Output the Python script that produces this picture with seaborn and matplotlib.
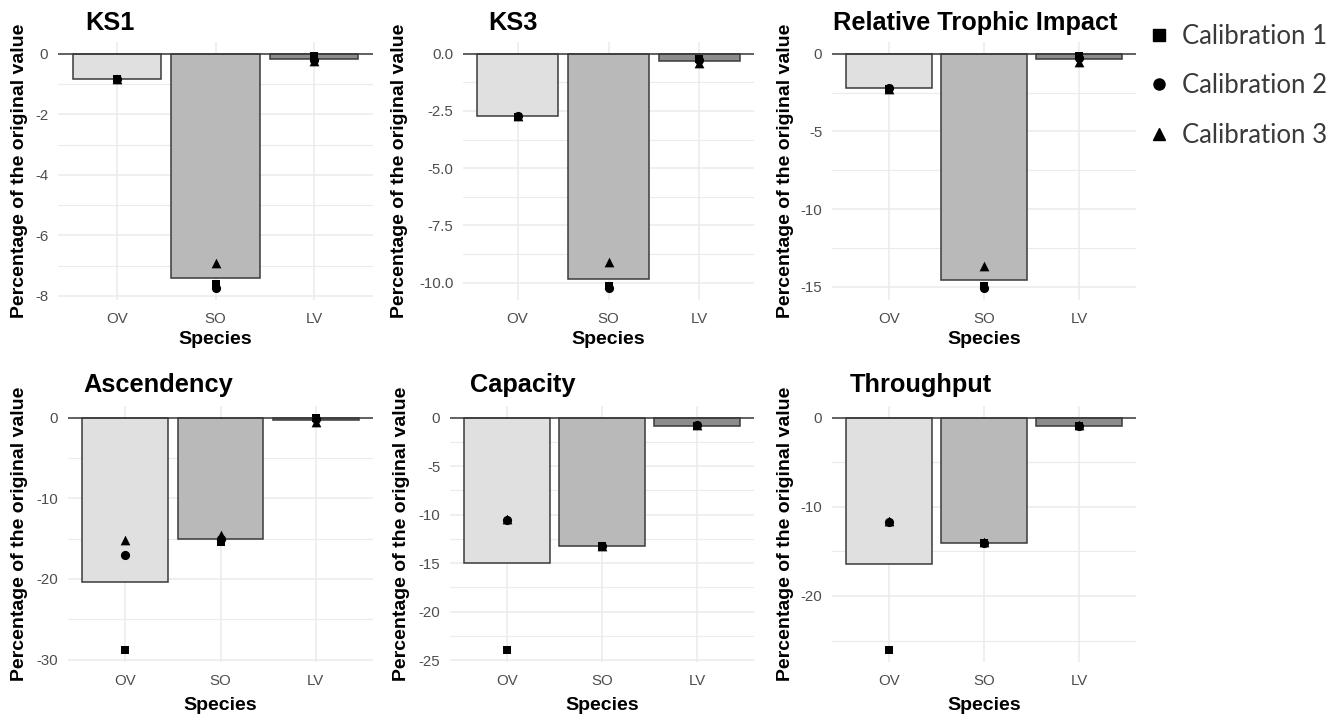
import numpy as np
import pandas as pd
import matplotlib
matplotlib.use("Agg")
import matplotlib.pyplot as plt
from matplotlib.ticker import MultipleLocator, FuncFormatter
from matplotlib.lines import Line2D
import seaborn as sns

# ---------------------------------------------------------------- data
SPECIES = ["OV", "SO", "LV"]
CALIBRATIONS = ["Calibration 1", "Calibration 2", "Calibration 3"]

# Percentage change of each index, one list per calibration (OV, SO, LV)
ks1 = [[-0.85, -7.60, -0.09],
       [-0.82, -7.75, -0.20],
       [-0.82, -6.90, -0.23]]
ks3 = [[-2.75, -10.15, -0.22],
       [-2.72, -10.25, -0.28],
       [-2.72, -9.10, -0.41]]
rti = [[-2.25, -14.95, -0.15],
       [-2.20, -15.10, -0.30],
       [-2.25, -13.65, -0.56]]
ascendency = [[-28.85, -15.40, 0.00],
              [-17.00, -15.10, -0.15],
              [-15.20, -14.60, -0.60]]
capacity = [[-24.00, -13.25, -0.85],
            [-10.55, -13.20, -0.80],
            [-10.45, -13.20, -0.80]]
throughput = [[-26.10, -14.10, -0.90],
              [-11.70, -14.05, -0.90],
              [-11.60, -14.00, -0.85]]

TITLES = ["KS1", "KS3", "Relative Trophic Impact",
          "Ascendency", "Capacity", "Throughput"]
VALUES = [ks1, ks3, rti, ascendency, capacity, throughput]
TICK_STEPS = [2, 2.5, 5, 10, 5, 10]
TICK_DECIMALS = [0, 1, 0, 0, 0, 0]

# ---------------------------------------------------------------- style
BAR_COLORS = {"OV": "#e0e0e0", "SO": "#b9b9b9", "LV": "#8c8c8c"}
MARKERS = ["s", "o", "^"]
MARKER_SIZES = [6.3, 6.6, 7.0]
LEGEND_MARKER_SIZES = [8.2, 8.0, 8.6]

W, H = 1343, 716
# panel boxes in pixels: left, right, top, bottom
PANELS = [(58, 373, 42, 300), (463, 754, 42, 300), (832, 1136, 42, 300),
          (68, 373, 406, 662), (450, 754, 406, 662), (832, 1136, 406, 662)]
TITLE_X = [85, 488, 833, 83, 470, 850]
TITLE_Y = [30, 30, 30, 392, 392, 392]
YLABEL_X = [20, 400, 786, 20, 402, 786]

sns.set_theme(style="white")
plt.rcParams["font.family"] = ["Liberation Sans", "DejaVu Sans"]
plt.rcParams["axes.unicode_minus"] = False

fig = plt.figure(figsize=(W / 100, H / 100), dpi=100)

for i, (title, vals) in enumerate(zip(TITLES, VALUES)):
    l, r, t, b = PANELS[i]
    ax = fig.add_axes([l / W, 1 - b / H, (r - l) / W, (b - t) / H])

    df = pd.DataFrame({
        "Species": SPECIES * 3,
        "Calibration": np.repeat(CALIBRATIONS, 3),
        "Value": np.concatenate(vals),
    })

    # bar = mean over the three calibrations
    sns.barplot(data=df, x="Species", y="Value", order=SPECIES,
                hue="Species", hue_order=SPECIES, palette=BAR_COLORS,
                legend=False, estimator="mean", errorbar=None, width=0.9,
                edgecolor="#3a3a3a", linewidth=1.1, ax=ax, zorder=2)
    ax.axhline(0, color="#3a3a3a", lw=1.1, zorder=2.5)

    for cal, mk, ms in zip(CALIBRATIONS, MARKERS, MARKER_SIZES):
        sns.stripplot(data=df[df["Calibration"] == cal], x="Species",
                      y="Value", order=SPECIES, jitter=False, marker=mk,
                      size=ms, color="black", linewidth=0, ax=ax, zorder=3)

    # ggplot-like limits: 5% continuous expansion, 0.6 discrete
    lo = min(df["Value"].min(), 0.0)
    hi = max(df["Value"].max(), 0.0)
    pad = 0.05 * (hi - lo)
    ax.set_ylim(lo - pad, hi + pad)
    ax.set_xlim(-0.6, 2.6)

    step = TICK_STEPS[i]
    dec = TICK_DECIMALS[i]
    ax.yaxis.set_major_locator(MultipleLocator(step))
    ax.yaxis.set_minor_locator(MultipleLocator(step / 2))
    ax.yaxis.set_major_formatter(
        FuncFormatter(lambda v, p, d=dec: f"{round(v, 6) + 0.0:.{d}f}"))

    ax.set_axisbelow(True)
    ax.grid(which="major", axis="both", color="#ebebeb", lw=1.1)
    ax.grid(which="minor", axis="y", color="#ebebeb", lw=0.8)
    for s in ax.spines.values():
        s.set_visible(False)
    ax.tick_params(axis="both", which="both", length=0, labelsize=10.8,
                   labelcolor="#4d4d4d")
    ax.tick_params(axis="y", pad=7)
    ax.tick_params(axis="x", pad=8.5)

    ax.set_xlabel("Species", fontsize=14, fontweight="bold", color="black")
    ax.set_ylabel("Percentage of the original value", fontsize=14,
                  fontweight="bold", color="black")
    ax.yaxis.label.set_va("center")
    ax.xaxis.label.set_va("center")
    ax.yaxis.set_label_coords((YLABEL_X[i] - l) / (r - l), 0.5)
    xl_y = 340 if i < 3 else 706
    ax.xaxis.set_label_coords(0.5, (b - xl_y) / (b - t))

    fig.text(TITLE_X[i] / W, 1 - TITLE_Y[i] / H, title, fontsize=18.3,
             fontweight="bold", color="black", ha="left", va="baseline")

handles = [Line2D([], [], linestyle="none", marker=m, color="black",
                  markersize=s)
           for m, s in zip(MARKERS, LEGEND_MARKER_SIZES)]
fig.legend(handles, CALIBRATIONS, loc="upper left",
           bbox_to_anchor=(1151 / W, 1 - 24 / H), frameon=False,
           prop={"family": "Lato", "size": 18.5}, labelcolor="#3a3a3a",
           handlelength=0.6, handletextpad=0.6, labelspacing=0.95,
           borderpad=0, borderaxespad=0)

fig.savefig("out.png", dpi=100)
